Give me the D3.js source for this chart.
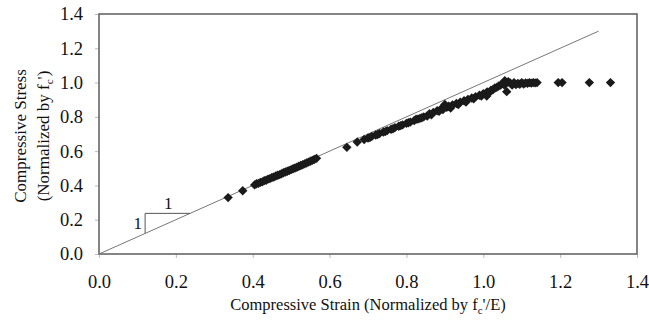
<!DOCTYPE html>
<html><head><meta charset="utf-8">
<script src="https://cdn.jsdelivr.net/npm/d3@7"></script>
<style>body{margin:0;background:#fff}svg{display:block}text{font-family:"Liberation Serif","Times New Roman",serif;fill:#111}</style>
</head><body><svg id="c" width="649" height="322"></svg>
<script>
const xTicks = [0, 0.2, 0.4, 0.6, 0.8, 1.0, 1.2, 1.4];
const yTicks = [0, 0.2, 0.4, 0.6, 0.8, 1.0, 1.2, 1.4];
const strain = [0.336,0.374,
0.405,0.41,0.415,0.42,0.425,0.43,0.435,0.44,0.445,0.45,0.455,0.46,0.465,0.47,0.475,0.48,0.485,0.49,0.495,0.50,0.505,0.51,0.515,0.52,0.525,0.53,0.535,0.54,0.545,0.55,0.555,0.56,0.566,
0.645,0.672,
0.69,0.70,0.71,0.72,0.73,0.74,0.75,0.76,0.77,0.78,0.79,0.80,0.81,0.82,0.83,0.84,0.845,0.854,0.86,0.87,0.88,0.89,0.90,0.905,0.91,0.92,0.93,0.94,0.95,0.96,0.97,0.98,0.99,1.0,1.009,1.01,1.02,1.03,1.04,1.05,1.056,1.061,1.065,1.07,1.075,1.08,1.09,1.10,1.11,1.12,1.13,1.14,
0.705,0.725,0.745,0.765,0.785,0.805,0.825,0.835,0.865,0.885,0.895,0.915,0.935,0.955,0.975,0.995,1.015,1.025,1.035,1.045,1.055,1.085,1.095,1.105,1.115,1.125,1.135,
1.195,1.205,1.276,1.331];
const stress = [0.329,0.369,
0.403,0.41,0.412,0.418,0.421,0.428,0.43,0.437,0.44,0.446,0.449,0.455,0.459,0.463,0.468,0.474,0.478,0.483,0.487,0.492,0.497,0.502,0.506,0.512,0.516,0.521,0.526,0.531,0.536,0.541,0.546,0.551,0.558,
0.622,0.653,
0.668,0.677,0.686,0.694,0.703,0.712,0.72,0.728,0.737,0.745,0.753,0.762,0.769,0.778,0.787,0.795,0.80,0.805,0.818,0.826,0.836,0.846,0.872,0.856,0.862,0.87,0.878,0.886,0.894,0.902,0.91,0.918,0.926,0.935,0.922,0.946,0.955,0.968,0.98,0.995,1.011,0.947,1.005,0.998,0.985,1.0,0.995,1.0,0.998,1.0,1.0,1.0,
0.679,0.697,0.714,0.731,0.749,0.766,0.786,0.791,0.812,0.832,0.843,0.852,0.872,0.887,0.905,0.922,0.94,0.958,0.972,0.985,0.985,0.988,0.99,0.992,0.995,0.997,0.998,
1.0,1.0,1.0,1.0];
const refLine = [[0,0],[1.3,1.3]];
const slopeTri = [[0.12,0.12],[0.12,0.237],[0.237,0.237]];

const svg = d3.select("#c");
const m = {l:99, r:637, t:14, b:254};
const x = d3.scaleLinear().domain([0,1.4]).range([m.l,m.r]);
const y = d3.scaleLinear().domain([0,1.4]).range([m.b,m.t]);

// axes
const xa = svg.append("g").attr("transform",`translate(0,${m.b})`)
  .call(d3.axisBottom(x).tickValues(xTicks).tickFormat(d3.format(".1f")).tickSize(4).tickPadding(17));
const ya = svg.append("g").attr("transform",`translate(${m.l},0)`)
  .call(d3.axisLeft(y).tickValues(yTicks).tickFormat(d3.format(".1f")).tickSize(4).tickPadding(12));
[xa,ya].forEach(g=>{
  g.select(".domain").remove();
  g.selectAll(".tick line").attr("stroke","#bbb");
  g.selectAll(".tick text").style("font-size","18.5px").attr("fill","#111");
});
// frame
svg.append("rect").attr("x",m.l).attr("y",m.t).attr("width",m.r-m.l).attr("height",m.b-m.t)
  .attr("fill","none").attr("stroke","#666").attr("stroke-width",1.6);

// reference 1:1 line
svg.append("path").datum(refLine)
  .attr("d",d3.line().x(d=>x(d[0])).y(d=>y(d[1])))
  .attr("fill","none").attr("stroke","#777").attr("stroke-width",1);
svg.append("path").datum(slopeTri)
  .attr("d",d3.line().x(d=>x(d[0])).y(d=>y(d[1])))
  .attr("fill","none").attr("stroke","#555").attr("stroke-width",1);
svg.append("text").attr("x",x(0.12)-3).attr("y",y(0.17)).attr("text-anchor","end").attr("dominant-baseline","middle").style("font-size","17px").text("1");
svg.append("text").attr("x",x(0.18)).attr("y",y(0.237)-4).attr("text-anchor","middle").style("font-size","17px").text("1");

// points
const sym = d3.symbol().type(d3.symbolSquare).size(44);
svg.append("g").selectAll("path").data(strain.map((s,i)=>[s,stress[i]])).join("path")
  .attr("d",sym).attr("transform",d=>`translate(${x(d[0])},${y(d[1])}) rotate(45)`)
  .attr("fill","#1a1a1a");

// titles
const xt = svg.append("text").attr("x",(m.l+m.r)/2).attr("y",310).attr("text-anchor","middle").style("font-size","16.5px");
xt.append("tspan").text("Compressive Strain (Normalized by f");
xt.append("tspan").attr("dy",4).style("font-size","11px").text("c");
xt.append("tspan").attr("dy",-4).text("'/E)");

const yt = svg.append("text").attr("transform","translate(26,136) rotate(-90)").attr("text-anchor","middle").style("font-size","17px");
yt.append("tspan").attr("x",0).attr("dy",0).text("Compressive Stress");
const l2 = svg.append("text").attr("transform","translate(49,136) rotate(-90)").attr("text-anchor","middle").style("font-size","17px");
l2.append("tspan").text("(Normalized by f");
l2.append("tspan").attr("dy",4).style("font-size","11px").text("c");
l2.append("tspan").attr("dy",-4).text("')");
</script></body></html>
